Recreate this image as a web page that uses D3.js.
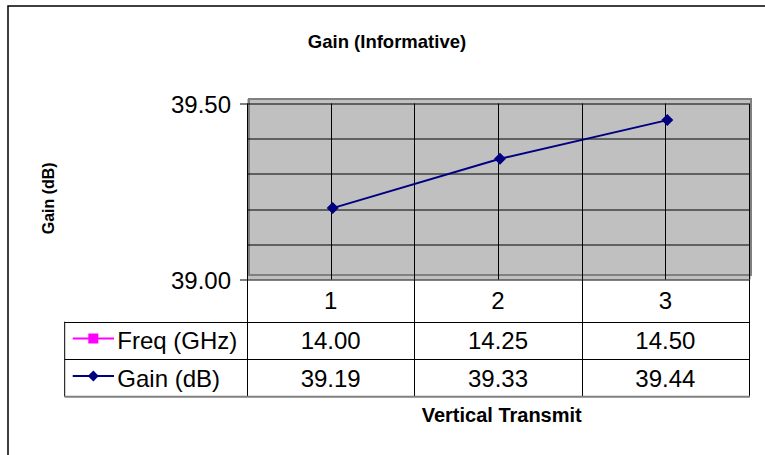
<!DOCTYPE html>
<html><head><meta charset="utf-8">
<script src="https://cdn.jsdelivr.net/npm/d3@7"></script>
<style>
body{margin:0;background:#fff}
svg{display:block}
text{font-family:Arial,"Liberation Sans",sans-serif;fill:#000}
</style>
</head><body>
<svg id="c" width="765" height="455"></svg>
<script>
// ---- data ----
const categories = [1, 2, 3];
const freqGHz = [14.00, 14.25, 14.50];
const gainDb = [39.19, 39.33, 39.44];
const yTickLabels = [39.00, 39.50];
const yGridValues = [39.0, 39.1, 39.2, 39.3, 39.4, 39.5];
const seriesNames = ["Freq (GHz)", "Gain (dB)"];
const seriesColors = ["#FF00FF", "#000080"];
const chartTitle = "Gain (Informative)";
const xTitle = "Vertical Transmit";
const yTitle = "Gain (dB)";

// ---- layout ----
const svg = d3.select("#c");
const plot = {x0: 249, x1: 751, y0: 99, y1: 275};
const off = {dx: -2, dy: 4.5};           // axis/grid offset as in the reference
const fmt = d3.format(".2f");

const x = d3.scaleBand().domain(categories).range([plot.x0, plot.x1]);
const y = d3.scaleLinear().domain([39, 39.5]).range([plot.y1, plot.y0]);
const bw = x.bandwidth();

// outer chart border
svg.append("rect").attr("x", 8).attr("y", 6).attr("width", 800).attr("height", 500)
  .attr("fill", "none").attr("stroke", "#000").attr("stroke-width", 1.5);

// title
svg.append("text").attr("x", 387).attr("y", 47.5).attr("text-anchor", "middle")
  .attr("font-size", 18.5).attr("font-weight", "bold").text(chartTitle);

// plot fill
svg.append("rect").attr("x", plot.x0 + off.dx).attr("y", plot.y0)
  .attr("width", plot.x1 - plot.x0 - off.dx).attr("height", plot.y1 + off.dy - plot.y0)
  .attr("fill", "#C0C0C0");
// plot border
svg.append("rect").attr("x", plot.x0).attr("y", plot.y0)
  .attr("width", plot.x1 - plot.x0).attr("height", plot.y1 - plot.y0)
  .attr("fill", "none").attr("stroke", "#808080").attr("stroke-width", 2);

// grid + axes group
const g = svg.append("g").attr("transform", `translate(${off.dx},${off.dy})`);
g.selectAll("line.hg").data(yGridValues).join("line").attr("class", "hg")
  .attr("x1", plot.x0).attr("x2", plot.x1)
  .attr("y1", d => Math.round(y(d)) + 0.5).attr("y2", d => Math.round(y(d)) + 0.5)
  .attr("stroke", "#000").attr("stroke-width", 1);
const vPos = [];
categories.forEach(c => { vPos.push(x(c)); vPos.push(x(c) + bw / 2); });
vPos.push(plot.x1);
g.selectAll("line.vg").data(vPos).join("line").attr("class", "vg")
  .attr("x1", d => Math.round(d) + 0.5).attr("x2", d => Math.round(d) + 0.5)
  .attr("y1", plot.y0).attr("y2", plot.y1)
  .attr("stroke", "#000").attr("stroke-width", 1);

const yAxis = d3.axisLeft(y).tickValues(yTickLabels).tickFormat(fmt)
  .tickSize(7).tickSizeOuter(0).tickPadding(9);
const ya = g.append("g").attr("transform", `translate(${plot.x0},0)`).call(yAxis);
ya.selectAll("text").attr("font-size", 24).attr("dy", "0.36em")
  .style("font-family", "Arial, 'Liberation Sans', sans-serif");
ya.select(".domain").attr("stroke", "#000");
ya.selectAll(".tick line").attr("stroke", "#000");

// series line + markers (Gain)
const cx = i => x(categories[i]) + bw / 2;
svg.append("path").datum(gainDb)
  .attr("d", d3.line().x((d, i) => cx(i)).y(d => y(d)))
  .attr("fill", "none").attr("stroke", seriesColors[1]).attr("stroke-width", 2);
svg.selectAll("path.mk").data(gainDb).join("path").attr("class", "mk")
  .attr("d", d3.symbol(d3.symbolSquare, 72))
  .attr("transform", (d, i) => `translate(${cx(i)},${y(d)}) rotate(45)`)
  .attr("fill", seriesColors[1]);

// ---- data table ----
const axisY = plot.y1 + off.dy;            // 39.00 line
const rowTops = [axisY, axisY + 42.2, axisY + 42.2 + 37.6, axisY + 42.2 + 37.6 + 37.4];
const tL = plot.x0 + off.dx, tR = plot.x1 + off.dx;
const legendLeft = 64.7;
const colLines = categories.map(c => x(c) + off.dx).concat([tR]);

const tg = svg.append("g");
tg.selectAll("line.col").data(colLines).join("line").attr("class", "col")
  .attr("x1", d => Math.round(d) + 0.5).attr("x2", d => Math.round(d) + 0.5)
  .attr("y1", rowTops[0]).attr("y2", rowTops[3])
  .attr("stroke", "#000");
tg.append("line").attr("x1", legendLeft).attr("x2", legendLeft)
  .attr("y1", rowTops[1]).attr("y2", rowTops[3]).attr("stroke", "#000");
[rowTops[1], rowTops[2]].forEach(yy => {
  tg.append("line").attr("x1", legendLeft).attr("x2", tR + 0.5)
    .attr("y1", Math.round(yy) + 0.5).attr("y2", Math.round(yy) + 0.5).attr("stroke", "#000");
});
tg.append("line").attr("x1", legendLeft).attr("x2", tR + 1)
  .attr("y1", rowTops[3]).attr("y2", rowTops[3]).attr("stroke", "#808080").attr("stroke-width", 2);

// category labels
const rowMid = i => (rowTops[i] + rowTops[i + 1]) / 2;
tg.selectAll("text.cat").data(categories).join("text").attr("class", "cat")
  .attr("x", c => x(c) + bw / 2 + off.dx).attr("y", rowMid(0) + 8.6)
  .attr("text-anchor", "middle").attr("font-size", 24).text(c => c);

const rows = [
  {name: seriesNames[0], values: freqGHz, color: seriesColors[0], sym: "square"},
  {name: seriesNames[1], values: gainDb, color: seriesColors[1], sym: "diamond"}
];
rows.forEach((r, ri) => {
  const ym = rowMid(ri + 1);
  tg.selectAll(`text.v${ri}`).data(r.values).join("text").attr("class", `v${ri}`)
    .attr("x", (d, i) => x(categories[i]) + bw / 2 + off.dx).attr("y", ym + 8.6)
    .attr("text-anchor", "middle").attr("font-size", 24).text(d => fmt(d));
  // legend key
  const ly = ym - 2;
  tg.append("line").attr("x1", 72.7).attr("x2", 114).attr("y1", ly).attr("y2", ly)
    .attr("stroke", r.color).attr("stroke-width", 2);
  if (r.sym === "square") {
    tg.append("path").attr("d", d3.symbol(d3.symbolSquare, 100))
      .attr("transform", `translate(93.3,${ly})`).attr("fill", r.color);
  } else {
    tg.append("path").attr("d", d3.symbol(d3.symbolSquare, 60))
      .attr("transform", `translate(93.3,${ly}) rotate(45)`).attr("fill", r.color);
  }
  tg.append("text").attr("x", 117.3).attr("y", ym + 8.6).attr("font-size", 24).text(r.name);
});

// axis titles
svg.append("text").attr("x", 501.7).attr("y", 421.5).attr("text-anchor", "middle")
  .attr("font-size", 20).attr("font-weight", "bold").text(xTitle);
svg.append("text").attr("transform", "translate(54,198.3) rotate(-90)")
  .attr("text-anchor", "middle").attr("font-size", 16).attr("font-weight", "bold").text(yTitle);
</script>
</body></html>
